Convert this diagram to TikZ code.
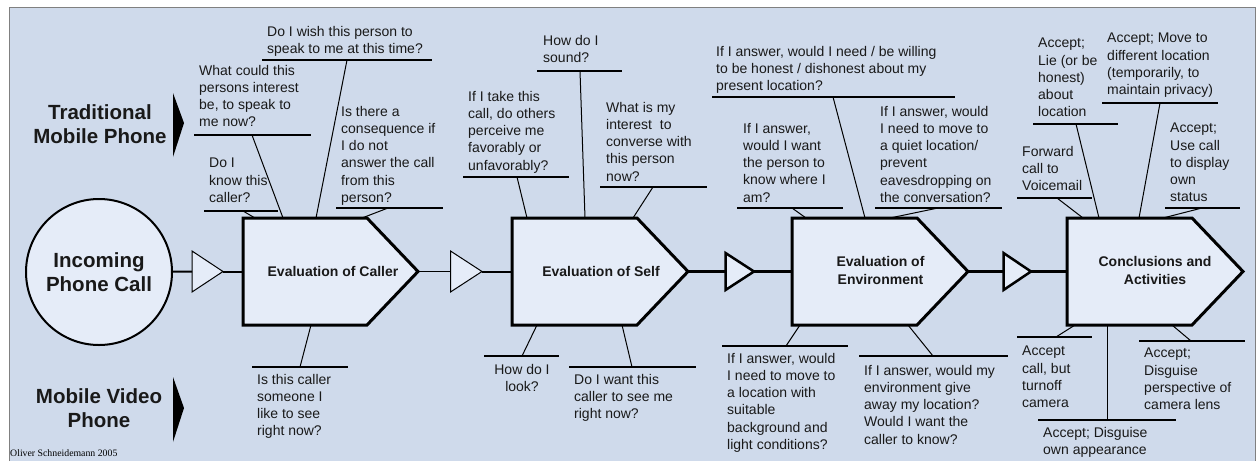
\documentclass[tikz,border=0pt]{standalone}
\usepackage{fontspec}
\setmainfont{Liberation Sans}
\newfontfamily\signfont{Liberation Serif}
\definecolor{panel}{RGB}{207,218,235}
\definecolor{boxfill}{RGB}{229,236,248}
\definecolor{ink}{RGB}{25,25,25}
\tikzset{
  question/.style={anchor=north west, inner sep=0pt, align=left, text=ink,
    font=\fontsize{14}{17.2}\selectfont},
  bone/.style={line width=1.3pt},
  stub/.style={line width=1pt},
  stage/.style={draw, line width=3pt, fill=boxfill, line join=miter},
  stagelabel/.style={inner sep=0pt, align=center, text=ink,
    font=\bfseries\fontsize{14}{17.6}\selectfont},
  sidetitle/.style={inner sep=0pt, align=center, text=ink,
    font=\bfseries\fontsize{20.5}{24.5}\selectfont},
  gate/.style={draw, fill=boxfill, line join=miter},
  flow/.style={line width=2pt},
}

\begin{document}
\begin{tikzpicture}[x=1pt,y=-1pt]
  \useasboundingbox (0,0) rectangle (1260,461);
  % Panel
  \fill[panel] (9,7) rectangle (1255,461);
  \draw[gray, line width=1pt] (9,461) -- (9,7) -- (1255,7) -- (1255,461);

  % Side titles
  \node[sidetitle, anchor=north] (traditional) at (100,104) {Traditional\\Mobile Phone};
  \fill (173,93) -- (184,123) -- (173,157) -- cycle;
  \node[sidetitle, anchor=north] (video) at (99,388) {Mobile Video\\Phone};
  \fill (173,377) -- (184,408) -- (173,442) -- cycle;
  \node[anchor=base west, inner sep=0pt, font=\signfont\fontsize{9.8}{11}\selectfont]
    (sign) at (10,456) {Oliver Schneidemann 2005};

  % Incoming call
  \node[circle, draw, line width=2pt, fill=boxfill, minimum size=146pt, sidetitle]
    (call) at (99,272) {Incoming\\Phone Call};

  % Gates and stages
  \coordinate (tri1 base) at (192,271.5);
  \coordinate (tri1 tip) at (223,271.5);
  \draw[gate, line width=1pt] (192,251) -- (tri1 tip) -- (192,292) -- cycle;
  \coordinate (tri2 base) at (450.5,271.5);
  \coordinate (tri2 tip) at (482,271.5);
  \draw[gate, line width=1pt] (450.5,251) -- (tri2 tip) -- (450.5,292) -- cycle;
  \coordinate (tri3 base) at (725.5,271.5);
  \coordinate (tri3 tip) at (754,271.5);
  \draw[gate, line width=2.5pt] (725.5,253) -- (tri3 tip) -- (725.5,290) -- cycle;
  \coordinate (tri4 base) at (1003.5,271.5);
  \coordinate (tri4 tip) at (1031,271.5);
  \draw[gate, line width=2.5pt] (1003.5,253) -- (tri4 tip) -- (1003.5,290) -- cycle;

  \coordinate (caller in) at (243,271.5);
  \coordinate (caller tip) at (418,271.5);
  \draw[stage] (243,218) -- (367,218) -- (caller tip) -- (367,325) -- (243,325) -- cycle;
  \node[stagelabel, anchor=base] (caller) at (333,276.5) {Evaluation of Caller};

  \coordinate (self in) at (512,271.5);
  \coordinate (self tip) at (688,271.5);
  \draw[stage] (512,218) -- (637,218) -- (self tip) -- (637,325) -- (512,325) -- cycle;
  \node[stagelabel, anchor=base] (self) at (601,276.5) {Evaluation of Self};

  \coordinate (env in) at (792,271.5);
  \coordinate (env tip) at (968,271.5);
  \draw[stage] (792,218) -- (917,218) -- (env tip) -- (917,325) -- (792,325) -- cycle;
  \node[stagelabel, anchor=north] (env) at (880.5,256.5) {Evaluation of\\Environment};

  \coordinate (concl in) at (1067,271.5);
  \coordinate (concl tip) at (1243,271.5);
  \draw[stage] (1067,218) -- (1192,218) -- (concl tip) -- (1192,325) -- (1067,325) -- cycle;
  \node[stagelabel, anchor=north] (concl) at (1155,256.5) {Conclusions and\\Activities};

  % Flow
  \draw[flow] (call) -- (tri1 base);
  \draw[flow] (tri1 tip) -- (caller in);
  \draw[flow, line width=1.5pt] (caller tip) -- (tri2 base);
  \draw[flow] (tri2 tip) -- (self in);
  \draw[flow, line width=3pt] (self tip) -- (tri3 base);
  \draw[flow, line width=3pt] (tri3 tip) -- (env in);
  \draw[flow, line width=3pt] (env tip) -- (tri4 base);
  \draw[flow, line width=3pt] (tri4 tip) -- (concl in);

  % Caller questions
  \node[question] (wish) at (267,26) {Do I wish this person to\\speak to me at this time?};
  \draw[bone] (262,60) -- (432,60);
  \coordinate (wish foot) at (347,60); \coordinate (wish root) at (316,218);
  \draw[stub] (wish foot) -- (wish root);

  \node[question] (interest) at (199,65) {What could this\\persons interest\\be, to speak to\\me now?};
  \draw[bone] (194,135) -- (311,135);
  \coordinate (interest foot) at (252,135); \coordinate (interest root) at (283,218);
  \draw[stub] (interest foot) -- (interest root);

  \node[question] (know) at (209,158) {Do I\\know this\\caller?};
  \draw[bone] (204,211) -- (278,211);
  \coordinate (know foot) at (243,211); \coordinate (know root) at (255,218);
  \draw[stub] (know foot) -- (know root);

  \node[question] (consequence) at (341,106) {Is there a\\consequence if\\I do not\\answer the call\\from this\\person?};
  \draw[bone] (336,208) -- (443,208);
  \coordinate (consequence foot) at (388,208); \coordinate (consequence root) at (362,218);
  \draw[stub] (consequence foot) -- (consequence root);

  \node[question] (likesee) at (257,374) {Is this caller\\someone I\\like to see\\right now?};
  \draw[bone] (252,367) -- (348,367);
  \coordinate (likesee foot) at (300,367); \coordinate (likesee root) at (311,325);
  \draw[stub] (likesee foot) -- (likesee root);

  % Self questions
  \node[question] (sound) at (543,35) {How do I\\sound?};
  \draw[bone] (537,71) -- (622,71);
  \coordinate (sound foot) at (580,71); \coordinate (sound root) at (585,218);
  \draw[stub] (sound foot) -- (sound root);

  \node[question] (perceive) at (468,91) {If I take this\\call, do others\\perceive me\\favorably or\\unfavorably?};
  \draw[bone] (463,177) -- (569,177);
  \coordinate (perceive foot) at (517,177); \coordinate (perceive root) at (527,218);
  \draw[stub] (perceive foot) -- (perceive root);

  \node[question] (converse) at (606,102) {What is my\\interest~ to\\converse with\\this person\\now?};
  \draw[bone] (600,187) -- (707,187);
  \coordinate (converse foot) at (653,187); \coordinate (converse root) at (633,218);
  \draw[stub] (converse foot) -- (converse root);

  \node[question, anchor=north, align=center] (look) at (522,364) {How do I\\look?};
  \draw[bone] (484,356) -- (559,356);
  \coordinate (look foot) at (522,356); \coordinate (look root) at (537,325);
  \draw[stub] (look foot) -- (look root);

  \node[question] (seeme) at (574,374) {Do I want this\\caller to see me\\right now?};
  \draw[bone] (569,367) -- (696,367);
  \coordinate (seeme foot) at (632,367); \coordinate (seeme root) at (622,325);
  \draw[stub] (seeme foot) -- (seeme root);

  % Environment questions
  \node[question] (honest) at (716,46) {If I answer, would I need / be willing\\to be honest / dishonest about my\\present location?};
  \draw[bone] (712,97) -- (955,97);
  \coordinate (honest foot) at (833,97); \coordinate (honest root) at (865,218);
  \draw[stub] (honest foot) -- (honest root);

  \node[question] (whereami) at (743,123) {If I answer,\\would I want\\the person to\\know where I\\am?};
  \draw[bone] (737,208) -- (843,208);
  \coordinate (whereami foot) at (792,208); \coordinate (whereami root) at (806,218);
  \draw[stub] (whereami foot) -- (whereami root);

  \node[question] (quiet) at (880,106) {If I answer, would\\I need to move to\\a quiet location/\\prevent\\eavesdropping on\\the conversation?};
  \draw[bone] (875,208) -- (1002,208);
  \coordinate (quiet foot) at (938,208); \coordinate (quiet root) at (890,218);
  \draw[stub] (quiet foot) -- (quiet root);

  \node[question] (suitable) at (727,353) {If I answer, would\\I need to move to\\a location with\\suitable\\background and\\light conditions?};
  \draw[bone] (722,346) -- (848,346);
  \coordinate (suitable foot) at (786,346); \coordinate (suitable root) at (800,325);
  \draw[stub] (suitable foot) -- (suitable root);

  \node[question] (giveaway) at (864,365) {If I answer, would my\\environment give\\away my location?\\Would I want the\\caller to know?};
  \draw[bone] (859,356) -- (1008,356);
  \coordinate (giveaway foot) at (933,356); \coordinate (giveaway root) at (908,325);
  \draw[stub] (giveaway foot) -- (giveaway root);

  % Conclusions
  \node[question] (voicemail) at (1022,146) {Forward\\call to\\Voicemail};
  \draw[bone] (1017,198) -- (1092,198);
  \coordinate (voicemail foot) at (1057,198); \coordinate (voicemail root) at (1083,218);
  \draw[stub] (voicemail foot) -- (voicemail root);

  \node[question] (lie) at (1038,38) {Accept;\\Lie (or be\\honest)\\about\\location};
  \draw[bone] (1033,124) -- (1118,124);
  \coordinate (lie foot) at (1076,124); \coordinate (lie root) at (1099,218);
  \draw[stub] (lie foot) -- (lie root);

  \node[question] (move) at (1107,33) {Accept; Move to\\different location\\(temporarily, to\\maintain privacy)};
  \draw[bone] (1102,103) -- (1218,103);
  \coordinate (move foot) at (1160,103); \coordinate (move root) at (1139,218);
  \draw[stub] (move foot) -- (move root);

  \node[question] (status) at (1170,123) {Accept;\\Use call\\to display\\own\\status};
  \draw[bone] (1165,208) -- (1240,208);
  \coordinate (status foot) at (1202,208); \coordinate (status root) at (1163,218);
  \draw[stub] (status foot) -- (status root);

  \node[question] (cameraoff) at (1022,346) {Accept\\call, but\\turnoff\\camera};
  \draw[bone] (1017,337) -- (1092,337);
  \coordinate (cameraoff foot) at (1056,337); \coordinate (cameraoff root) at (1075,325);
  \draw[stub] (cameraoff foot) -- (cameraoff root);

  \node[question] (appearance) at (1043,427) {Accept; Disguise\\own appearance};
  \draw[bone] (1038,420) -- (1176,420);
  \coordinate (appearance foot) at (1107,420); \coordinate (appearance root) at (1107,325);
  \draw[stub] (appearance foot) -- (appearance root);

  \node[question] (lens) at (1144,348) {Accept;\\Disguise\\perspective of\\camera lens};
  \draw[bone] (1139,341) -- (1245,341);
  \coordinate (lens foot) at (1191,341); \coordinate (lens root) at (1172,325);
  \draw[stub] (lens foot) -- (lens root);
\end{tikzpicture}
\end{document}
